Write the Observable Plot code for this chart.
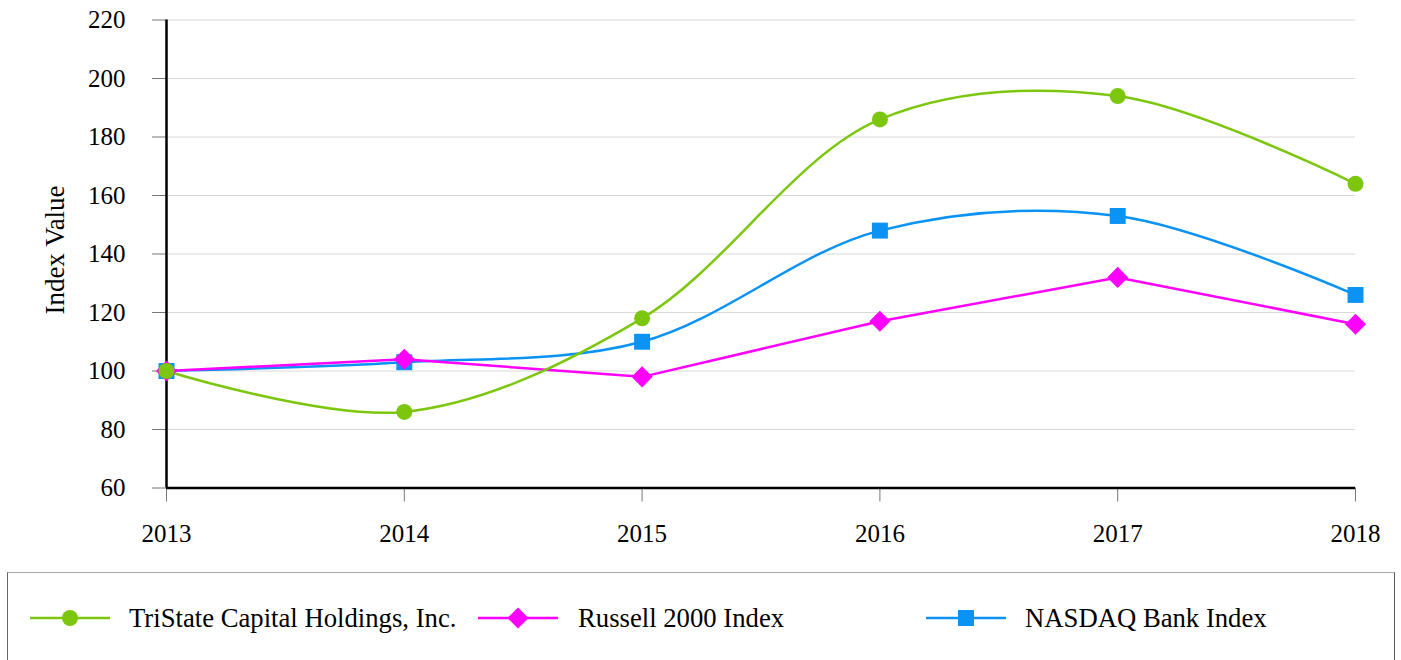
<!DOCTYPE html>
<html>
<head>
<meta charset="utf-8">
<script src="https://cdn.jsdelivr.net/npm/d3@7"></script>
<script src="https://cdn.jsdelivr.net/npm/@observablehq/plot@0.6"></script>
<style>
  html, body { margin: 0; padding: 0; background: white; }
  #wrap { position: relative; width: 1401px; height: 660px; overflow: hidden; font-family: "Liberation Serif", "Times New Roman", serif; }
  #legend { position: absolute; left: 7px; top: 572px; width: 1388px; height: 120px; border-style: solid; border-width: 1.5px; border-color: #aaaaaa #555555 #555555 #666666; box-sizing: border-box; }
  .item { position: absolute; top: 30px; height: 30px; display: flex; align-items: center; font-size: 26.7px; color: #000; white-space: nowrap; }
  .item svg { display: block; }
</style>
</head>
<body>
<div id="wrap">
  <div id="chart"></div>
  <div id="legend"></div>
</div>
<script>
const years = [2013, 2014, 2015, 2016, 2017, 2018];
const seriesNames = ["TriState Capital Holdings, Inc.", "Russell 2000 Index", "NASDAQ Bank Index"];
const tristate = [100, 86, 118, 186, 194, 164];
const russell = [100, 104, 98, 117, 132, 116];
const nasdaq = [100, 103, 110, 148, 153, 126];
const yTicks = [60, 80, 100, 120, 140, 160, 180, 200, 220];
const yLabel = "Index Value";

const colors = ["#7cc70e", "#ff00ff", "#0a92f4"];
const symbols = ["circle", "diamond2", "square"];
const radii = [8, 9.5, 9];
const curves = ["catmull-rom", "linear", "catmull-rom"];
const valuesBySeries = [tristate, russell, nasdaq];

const rows = (i) => years.map((yr, k) => ({year: yr, value: valuesBySeries[i][k], series: seriesNames[i]}));

// draw order: NASDAQ, Russell, TriState (TriState on top)
const order = [2, 1, 0];
const seriesMarks = [];
for (const i of order) {
  seriesMarks.push(Plot.line(rows(i), {x: "year", y: "value", curve: curves[i], stroke: colors[i], strokeWidth: 2.5}));
}
for (const i of order) {
  seriesMarks.push(Plot.dot(rows(i), {x: "year", y: "value", symbol: () => symbols[i], r: radii[i], fill: colors[i], stroke: "none"}));
}

const chart = Plot.plot({
  width: 1401,
  height: 572,
  marginLeft: 166,
  marginRight: 46,
  marginTop: 19.5,
  marginBottom: 84.5,
  style: {fontFamily: "'Liberation Serif', 'Times New Roman', serif", fontSize: "25px", background: "white", color: "black", overflow: "visible"},
  x: {domain: [2013, 2018]},
  y: {domain: [60, 220]},
  symbol: {type: "identity"},
  marks: [
    Plot.gridY(yTicks, {stroke: "#d9d9d9", strokeOpacity: 1, strokeWidth: 1.2}),
    Plot.axisY(yTicks, {tickSize: 14, tickPadding: 27, stroke: "#777", label: null, fontSize: 25}),
    Plot.axisX(years, {tickSize: 14, tickPadding: 22, stroke: "#777", label: null, tickFormat: d => String(d), fontSize: 25}),
    Plot.ruleX([2013], {stroke: "black", strokeWidth: 2.5}),
    Plot.ruleY([60], {stroke: "black", strokeWidth: 2.5}),
    Plot.text([yLabel], {frameAnchor: "left", dx: -111, dy: -4, rotate: -90, textAnchor: "middle", text: d => d, fontSize: 27, fill: "black"}),
    ...seriesMarks
  ]
});
document.getElementById("chart").appendChild(chart);

// Legend (positions relative to the legend box)
const legendLayout = [
  {lineX0: 22, lineX1: 102, textX: 121},
  {lineX0: 470, lineX1: 550, textX: 570},
  {lineX0: 918, lineX1: 998, textX: 1017}
];
const legend = document.getElementById("legend");
seriesNames.forEach((name, i) => {
  const L = legendLayout[i];
  const div = document.createElement("div");
  div.className = "item";
  div.style.left = L.lineX0 + "px";
  div.style.top = "30px";
  const w = L.lineX1 - L.lineX0;
  const svg = d3.create("svg").attr("width", w).attr("height", 30).style("overflow", "visible");
  svg.append("line").attr("x1", 0).attr("x2", w).attr("y1", 15).attr("y2", 15).attr("stroke", colors[i]).attr("stroke-width", 2.5);
  const symMap = {circle: d3.symbolCircle, diamond2: d3.symbolDiamond2, square: d3.symbolSquare};
  svg.append("path").attr("transform", `translate(${w / 2},15)`)
    .attr("d", d3.symbol(symMap[symbols[i]], Math.PI * radii[i] * radii[i])())
    .attr("fill", colors[i]);
  div.appendChild(svg.node());
  const span = document.createElement("span");
  span.textContent = name;
  span.style.marginLeft = (L.textX - L.lineX1) + "px";
  div.appendChild(span);
  legend.appendChild(div);
});
</script>
</body>
</html>
